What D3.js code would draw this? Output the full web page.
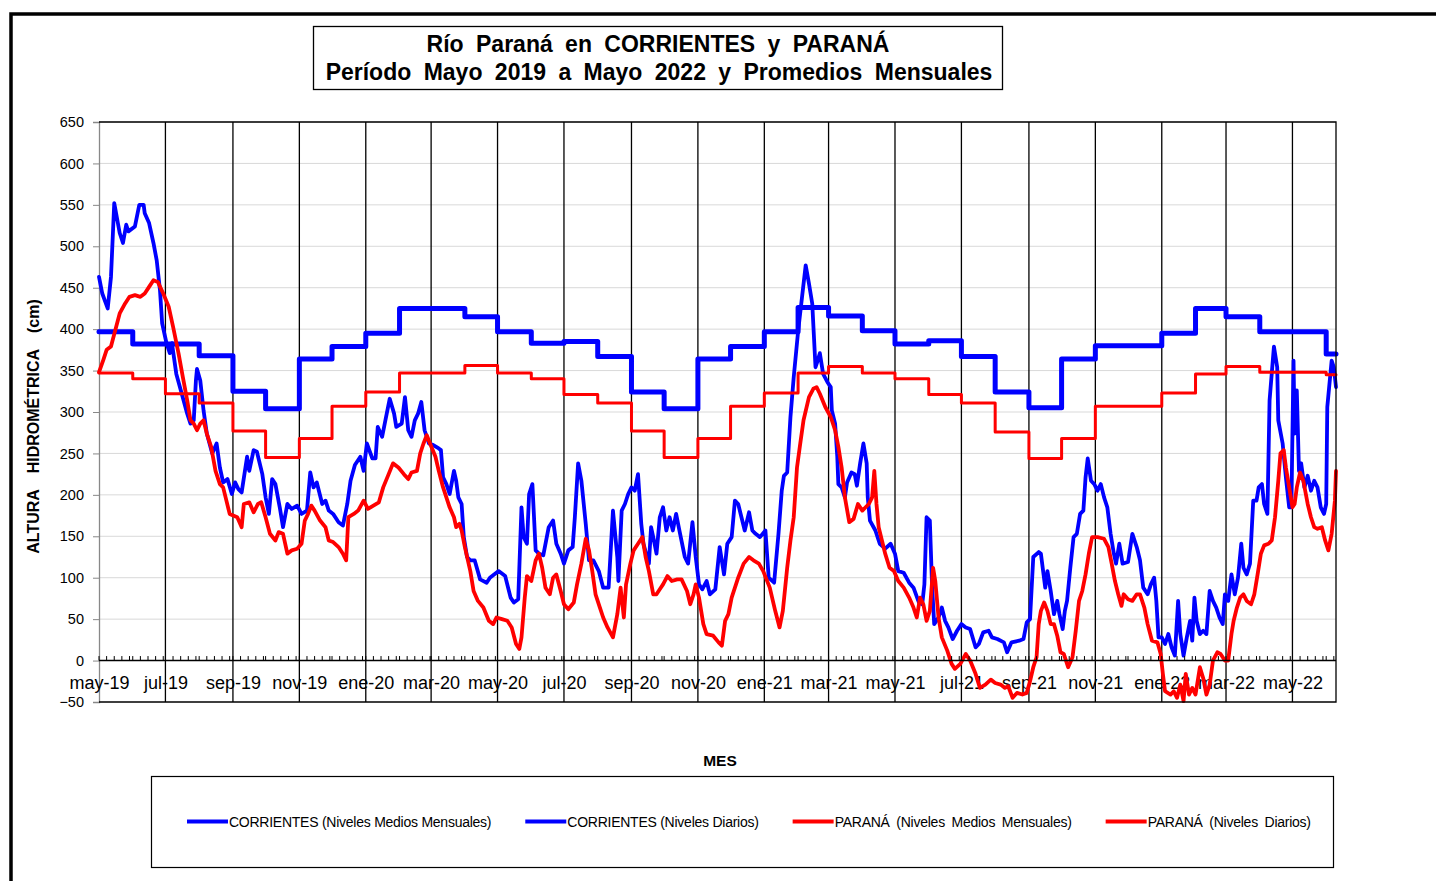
<!DOCTYPE html>
<html><head><meta charset="utf-8">
<script src="https://cdn.jsdelivr.net/npm/d3@7"></script>
<style>
body{margin:0;background:#fff}
svg{display:block}
text{font-family:"Liberation Sans",Arial,sans-serif;fill:#000}
</style>
</head><body>
<svg id="c" width="1436" height="881"></svg>
<script>
// ---------------- DATA ----------------
const startDate = "2019-05-01";
const endDate = "2022-06-10";
const xTickLabels = ["may-19","jul-19","sep-19","nov-19","ene-20","mar-20","may-20","jul-20","sep-20","nov-20",
  "ene-21","mar-21","may-21","jul-21","sep-21","nov-21","ene-22","mar-22","may-22"];
const yTickValues = [-50,0,50,100,150,200,250,300,350,400,450,500,550,600,650];

// Monthly means (one value per month, May 2019 .. Jun 2022)
const corrMonthly = [397,382,382,368,325,304,364,379,
  395,425,425,415,397,383,385,367,324,304,364,379,
  397,426,416,398,382,386,367,324,305,364,380,380,
  395,425,415,397,397,370];
const parMonthly = [347,340,322,311,277,245,268,307,
  324,347,347,356,347,340,321,311,277,245,268,307,
  323,347,355,347,340,321,311,276,244,268,307,307,
  323,346,355,348,348,345];

// Daily levels: day offset from startDate, value (cm)
const corrDay = [0,3,8,11,14,19,22,25,27,33,37,41,42,46,50,53,56,58,62,65,67,71,76,81,84,87,89,90,93,96,99,104,108,111,114,118,122,125,128,131,136,138,142,145,150,153,156,159,162,166,169,173,177,182,186,191,194,197,200,205,208,211,215,220,224,228,231,235,240,243,246,251,254,256,260,263,267,271,273,278,281,284,287,290,293,296,299,303,307,312,314,316,319,322,326,328,330,333,335,338,341,345,350,356,359,367,373,378,381,385,388,390,393,395,398,401,404,408,413,417,420,424,427,431,435,437,440,443,447,450,454,459,463,468,472,476,477,480,483,486,489,492,495,498,500,505,507,509,512,515,518,521,524,527,530,533,538,541,545,548,551,554,558,561,566,570,574,577,581,584,587,590,593,597,600,603,607,612,615,620,624,627,629,632,635,638,642,646,649,652,655,658,660,662,665,669,672,673,676,678,679,682,685,687,691,694,696,699,702,705,706,708,713,717,722,727,731,734,739,744,748,753,756,758,760,763,765,767,771,774,777,780,784,788,792,796,800,805,808,812,817,820,825,831,834,838,845,849,852,855,858,863,865,869,871,874,877,880,882,885,887,889,892,895,898,901,904,906,908,911,914,917,920,923,926,929,932,934,937,940,945,949,953,956,959,963,966,969,971,973,976,979,982,985,988,991,993,996,999,1002,1004,1006,1008,1011,1014,1017,1020,1023,1026,1029,1032,1034,1037,1040,1043,1046,1049,1051,1054,1057,1060,1063,1065,1068,1070,1073,1075,1079,1082,1083,1087,1090,1093,1095,1097,1098,1100,1102,1104,1107,1110,1113,1116,1119,1122,1125,1127,1128,1132,1134,1136];
const corrVal = [463,443,425,463,552,516,504,526,518,524,550,550,540,528,504,483,447,407,383,371,383,346,322,298,286,290,338,352,338,302,274,250,262,233,215,219,201,215,207,203,246,229,254,252,225,197,177,219,213,185,161,189,183,187,177,181,227,209,215,189,193,181,177,167,163,189,217,236,246,229,262,244,244,282,270,290,316,298,282,286,318,278,270,290,298,312,278,262,260,256,254,221,213,201,229,217,197,189,149,125,121,121,98,94,100,108,102,76,70,74,185,149,141,201,213,133,129,127,161,169,141,129,117,133,137,173,238,217,165,121,121,108,88,88,181,125,96,181,189,201,209,205,225,165,141,117,161,149,129,173,185,157,173,157,177,157,125,117,167,125,92,86,96,80,86,137,104,141,149,193,189,173,157,179,157,153,149,157,100,94,153,205,223,227,294,342,397,443,477,455,431,354,362,371,346,336,330,302,286,246,213,209,197,215,227,225,211,238,262,238,197,169,157,141,135,141,129,108,106,94,88,70,68,92,173,169,92,44,52,64,48,40,26,36,44,40,38,16,20,34,36,28,26,22,10,22,24,26,46,50,125,131,129,88,108,84,56,72,56,38,60,72,112,149,153,177,181,221,244,217,213,205,213,197,185,153,129,117,141,117,119,153,137,121,88,80,92,100,72,28,28,20,32,16,6,72,32,6,28,48,24,76,48,32,36,32,84,72,64,52,44,80,72,104,80,100,141,112,104,117,193,193,209,213,189,177,314,379,354,290,262,221,185,185,362,274,326,229,238,209,223,205,217,209,185,177,189,306,362,354,330];

const parDay = [0,4,7,11,15,19,24,28,33,38,42,46,50,54,59,64,68,73,77,81,84,87,90,93,96,99,103,107,111,114,117,120,127,131,133,138,142,146,149,153,157,162,165,169,173,177,182,186,189,192,195,198,203,208,211,215,220,224,227,229,234,238,243,247,252,257,261,266,270,275,280,284,287,292,295,298,301,304,309,312,316,319,322,326,328,331,333,336,341,344,348,353,358,362,365,370,375,379,383,386,388,391,393,397,401,404,407,410,414,417,420,424,427,431,436,439,443,447,450,453,456,460,463,467,472,476,479,482,484,488,491,495,499,502,505,509,512,515,518,522,526,531,535,540,543,546,548,551,555,558,564,569,572,575,578,581,584,587,592,597,601,606,610,616,621,625,628,632,635,638,641,644,647,652,656,659,662,667,672,676,679,682,685,689,693,697,701,704,707,710,712,714,716,719,722,726,730,734,739,744,748,751,754,757,760,763,766,768,771,774,779,783,786,791,796,800,805,809,814,819,823,828,832,835,839,843,848,852,855,858,861,863,865,868,871,874,877,880,883,886,890,894,897,900,903,906,909,912,917,923,927,930,933,936,939,941,945,949,953,956,960,963,967,972,975,977,979,984,987,990,993,996,998,1001,1004,1007,1011,1014,1017,1020,1023,1027,1030,1034,1037,1040,1042,1045,1048,1051,1054,1058,1061,1064,1067,1070,1074,1077,1080,1083,1085,1088,1090,1093,1096,1098,1100,1103,1106,1110,1113,1116,1119,1123,1126,1129,1132,1135,1136];
const parVal = [348,363,375,379,399,419,431,439,441,439,443,451,459,457,443,427,403,371,342,314,290,286,278,286,290,274,258,229,213,209,193,177,173,161,189,191,179,189,191,173,153,145,155,153,129,133,135,141,169,177,187,181,169,161,145,143,137,129,121,173,177,181,193,183,187,191,209,225,238,233,225,219,227,229,250,262,272,262,246,229,209,197,185,173,161,165,157,137,108,84,72,64,48,44,52,50,48,40,20,14,28,76,102,96,121,129,112,88,80,100,104,84,68,62,70,92,117,147,133,108,80,64,52,40,28,56,88,52,92,117,133,141,149,125,108,80,80,86,92,102,96,98,98,84,68,80,92,76,44,32,30,22,18,48,56,76,88,100,117,125,121,117,108,88,60,40,60,112,145,173,233,262,290,318,328,330,322,306,294,278,258,233,197,167,171,189,181,185,189,197,229,189,161,145,129,112,108,96,88,76,64,52,76,68,48,60,112,96,52,28,12,-4,-10,-4,8,0,-16,-33,-29,-23,-27,-29,-33,-31,-45,-39,-41,-39,-25,-8,4,44,60,70,60,44,44,30,10,8,-8,4,36,72,84,104,129,149,149,147,137,117,96,80,66,80,74,72,80,80,64,44,24,22,8,-16,-37,-41,-37,-45,-29,-49,-16,-41,-33,-41,-8,-21,-41,-29,0,10,8,0,0,32,48,64,76,80,72,68,80,104,129,139,141,145,173,217,250,254,233,209,185,189,209,227,217,189,173,161,159,161,145,133,153,193,229];

const seriesNames = ["CORRIENTES (Niveles Medios Mensuales)","CORRIENTES (Niveles Diarios)",
  "PARANÁ (Niveles Medios Mensuales)","PARANÁ (Niveles Diarios)"];
const seriesColors = ["#0000FF","#0000FF","#FF0000","#FF0000"];

// ---------------- CHART ----------------
const svg = d3.select("#c");
svg.append("rect").attr("width",1436).attr("height",881).attr("fill","#fff");

const parse = d3.timeParse("%Y-%m-%d");
const t0 = parse(startDate), t1 = parse(endDate);
const X0 = 99, X1 = 1336, Y0 = 702, Y1 = 122;
const x = d3.scaleTime().domain([t0, t1]).range([X0, X1]);
const y = d3.scaleLinear().domain([-50, 650]).range([Y0, Y1]);
const dayDate = d => d3.timeDay.offset(t0, d);

// outer frame
svg.append("rect").attr("x",11).attr("y",14).attr("width",1450).attr("height",900)
  .attr("fill","none").attr("stroke","#000").attr("stroke-width",3.5);

// title box
svg.append("rect").attr("x",313.5).attr("y",26.5).attr("width",689).attr("height",63)
  .attr("fill","#fff").attr("stroke","#000").attr("stroke-width",1.3);
const title = svg.append("text").attr("text-anchor","middle")
  .style("font-size","23px").style("font-weight","bold").style("word-spacing","6px");
title.append("tspan").attr("x",658).attr("y",52).text("Río Paraná en CORRIENTES y PARANÁ");
title.append("tspan").attr("x",659).attr("y",80).text("Período Mayo 2019 a Mayo 2022 y Promedios Mensuales");

// horizontal gridlines
svg.append("g").selectAll("line").data(yTickValues.filter(v => v > -50 && v !== 0))
  .join("line").attr("x1",X0).attr("x2",X1).attr("y1",d=>y(d)).attr("y2",d=>y(d))
  .attr("stroke","#d9d9d9").attr("stroke-width",1);

// vertical month lines
const labelDates = xTickLabels.map((_, i) => d3.timeMonth.offset(t0, 2 * i));
svg.append("g").selectAll("line").data(labelDates.slice(1))
  .join("line").attr("x1",d=>x(d)).attr("x2",d=>x(d)).attr("y1",Y1).attr("y2",Y0)
  .attr("stroke","#000").attr("stroke-width",1.3);

// y axis
const yAxis = svg.append("g").attr("transform",`translate(${X0},0)`)
  .call(d3.axisLeft(y).tickValues(yTickValues).tickSize(6).tickPadding(9).tickFormat(d3.format("d")));
yAxis.select(".domain").attr("stroke","#888").attr("stroke-width",1.3);
yAxis.selectAll(".tick line").attr("stroke","#888");
yAxis.selectAll("text").style("font-size","14.5px").attr("fill","#000").style("font-family","Liberation Sans, Arial, sans-serif");

// x axis labels
const xAxis = svg.append("g").attr("transform",`translate(0,${y(0)})`)
  .call(d3.axisBottom(x).tickValues(labelDates).tickFormat((d,i)=>xTickLabels[i]).tickSize(0).tickPadding(15.5));
xAxis.select(".domain").remove();
xAxis.selectAll("text").style("font-size","18px").attr("fill","#000").style("font-family","Liberation Sans, Arial, sans-serif");

// series
const stepPts = vals => {
  const months = d3.timeMonth.range(t0, t1);
  const pts = months.map((m, i) => [m, vals[i]]);
  pts.push([t1, vals[vals.length - 1]]);
  return pts;
};
const stepLine = d3.line().x(d=>x(d[0])).y(d=>y(d[1])).curve(d3.curveStepAfter);
const dailyLine = d3.line().x(d=>x(d[0])).y(d=>y(d[1]));

const g = svg.append("g").attr("fill","none").attr("stroke-linejoin","round").attr("stroke-linecap","round");
g.append("path").attr("d", stepLine(stepPts(corrMonthly))).attr("stroke",seriesColors[0]).attr("stroke-width",5);
g.append("path").attr("d", dailyLine(corrDay.map((d,i)=>[dayDate(d), corrVal[i]]))).attr("stroke",seriesColors[1]).attr("stroke-width",3.8);
g.append("path").attr("d", stepLine(stepPts(parMonthly))).attr("stroke",seriesColors[2]).attr("stroke-width",3);
g.append("path").attr("d", dailyLine(parDay.map((d,i)=>[dayDate(d), parVal[i]]))).attr("stroke",seriesColors[3]).attr("stroke-width",3.8);

// zero axis line with weekly minor ticks
svg.append("line").attr("x1",X0).attr("x2",X1).attr("y1",y(0)).attr("y2",y(0))
  .attr("stroke","#000").attr("stroke-width",1.5);
svg.append("g").selectAll("line").data(d3.timeDay.every(7).range(t0, t1))
  .join("line").attr("x1",d=>x(d)).attr("x2",d=>x(d)).attr("y1",y(0)).attr("y2",y(0)-4.5)
  .attr("stroke","#000").attr("stroke-width",1);

// plot border (top, right, bottom)
svg.append("path").attr("d",`M${X0},${Y1}H${X1}V${Y0}H${X0}`).attr("fill","none")
  .attr("stroke","#000").attr("stroke-width",1.3);

// axis titles
svg.append("text").attr("transform","translate(38.5,426.5) rotate(-90)").attr("text-anchor","middle")
  .style("font-size","16px").style("font-weight","bold").style("word-spacing","12px")
  .text("ALTURA HIDROMÉTRICA (cm)");
svg.append("text").attr("x",720).attr("y",766).attr("text-anchor","middle")
  .style("font-size","15.5px").style("font-weight","bold").text("MES");

// legend
svg.append("rect").attr("x",151.5).attr("y",776.5).attr("width",1182).attr("height",91)
  .attr("fill","#fff").attr("stroke","#000").attr("stroke-width",1.2);
let cx = 187;
seriesNames.forEach((name, i) => {
  svg.append("line").attr("x1",cx).attr("x2",cx+41).attr("y1",821.5).attr("y2",821.5)
    .attr("stroke",seriesColors[i]).attr("stroke-width",4);
  const t = svg.append("text").attr("x",cx+42).attr("y",826.5)
    .style("font-size","14px").style("letter-spacing","-0.25px")
    .style("word-spacing", i >= 2 ? "3px" : "0px").text(name);
  cx = cx + 42 + t.node().getComputedTextLength() + 34;
});
</script>
</body></html>
